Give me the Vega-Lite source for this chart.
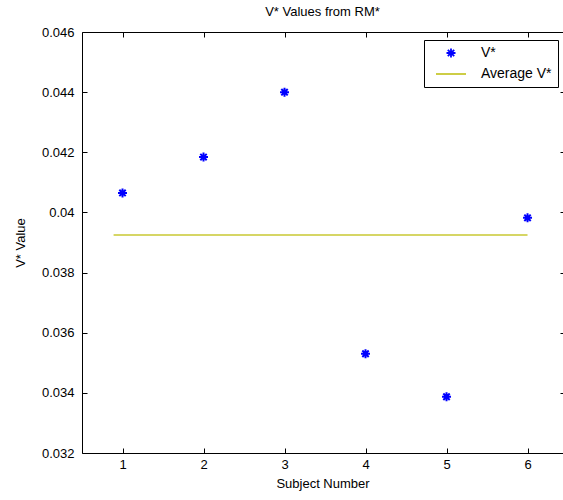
{
  "$schema": "https://vega.github.io/schema/vega-lite/v6.json",
  "autosize": {"type": "none"},
  "width": 481,
  "height": 421,
  "padding": {"left": 82, "top": 32, "right": 0, "bottom": 47},
  "background": "white",
  "title": {
    "text": "V* Values from RM*",
    "font": "Liberation Sans, Arial",
    "fontSize": 13,
    "fontWeight": "normal",
    "color": "#000",
    "anchor": "middle",
    "offset": 7
  },
  "config": {
    "view": {"stroke": "#000", "strokeWidth": 1},
    "axis": {
      "labelFont": "Liberation Sans, Arial",
      "titleFont": "Liberation Sans, Arial",
      "labelFontSize": 13,
      "titleFontSize": 13,
      "titleFontWeight": "normal",
      "labelColor": "#000",
      "titleColor": "#000",
      "grid": false,
      "domain": false,
      "tickColor": "#000",
      "tickSize": 5,
      "tickWidth": 1,
      "offset": -5
    },
    "legend": {
      "labelFont": "Liberation Sans, Arial",
      "labelFontSize": 14,
      "labelColor": "#000"
    }
  },
  "datasets": {
    "subjects": [
      {"subject": 1, "v": 0.04065, "series": "V*"},
      {"subject": 2, "v": 0.04184, "series": "V*"},
      {"subject": 3, "v": 0.04400, "series": "V*"},
      {"subject": 4, "v": 0.03530, "series": "V*"},
      {"subject": 5, "v": 0.03387, "series": "V*"},
      {"subject": 6, "v": 0.03982, "series": "V*"}
    ],
    "average": [
      {"subject": 0.89, "v": 0.03925, "series": "Average V*"},
      {"subject": 6, "v": 0.03925, "series": "Average V*"}
    ]
  },
  "layer": [
    {
      "data": {"name": "subjects"},
      "mark": {"type": "point", "filled": false, "strokeWidth": 2, "size": 100, "opacity": 1},
      "encoding": {
        "x": {
          "field": "subject", "type": "quantitative",
          "scale": {"domain": [0.5, 6.438], "nice": false, "zero": false},
          "axis": {"title": "Subject Number", "values": [1, 2, 3, 4, 5, 6], "labelPadding": 5, "titlePadding": 6}
        },
        "y": {
          "field": "v", "type": "quantitative",
          "scale": {"domain": [0.032, 0.046], "nice": false, "zero": false},
          "axis": {"title": "V* Value", "format": "~g", "values": [0.032, 0.034, 0.036, 0.038, 0.04, 0.042, 0.044, 0.046], "labelPadding": 8, "titlePadding": 14}
        },
        "color": {
          "field": "series", "type": "nominal",
          "scale": {"domain": ["V*", "Average V*"], "range": ["#0000ff", "#c8c832"]},
          "legend": {
            "title": null,
            "orient": "none",
            "legendX": 342,
            "legendY": 8,
            "strokeColor": "#000",
            "fillColor": "#fff",
            "padding": 6,
            "symbolStrokeWidth": 1.8,
            "symbolSize": 100,
            "symbolOffset": 14,
            "labelOffset": 23,
            "rowPadding": 5,
            "cornerRadius": 0
          }
        },
        "shape": {
          "field": "series", "type": "nominal",
          "scale": {
            "domain": ["V*", "Average V*"],
            "range": ["M-0.9,0L0.9,0M0,-0.9L0,0.9M-0.64,-0.64L0.64,0.64M-0.64,0.64L0.64,-0.64", "M-3,0L3,0"]
          },
          "legend": {
            "title": null,
            "orient": "none",
            "legendX": 342,
            "legendY": 8,
            "strokeColor": "#000",
            "fillColor": "#fff",
            "padding": 6,
            "symbolStrokeWidth": 1.8,
            "symbolSize": 100,
            "symbolOffset": 14,
            "labelOffset": 23,
            "rowPadding": 5,
            "cornerRadius": 0
          }
        }
      }
    },
    {
      "data": {"name": "average"},
      "mark": {"type": "line", "strokeWidth": 1.6},
      "encoding": {
        "x": {
          "field": "subject", "type": "quantitative",
          "axis": {"orient": "top", "title": null, "labels": false, "values": [1, 2, 3, 4, 5, 6]}
        },
        "y": {
          "field": "v", "type": "quantitative",
          "axis": {"orient": "right", "title": null, "labels": false, "values": [0.032, 0.034, 0.036, 0.038, 0.04, 0.042, 0.044, 0.046], "tickSize": 3, "offset": -3}
        },
        "color": {"field": "series", "type": "nominal"}
      }
    }
  ],
  "resolve": {"axis": {"x": "independent", "y": "independent"}}
}
